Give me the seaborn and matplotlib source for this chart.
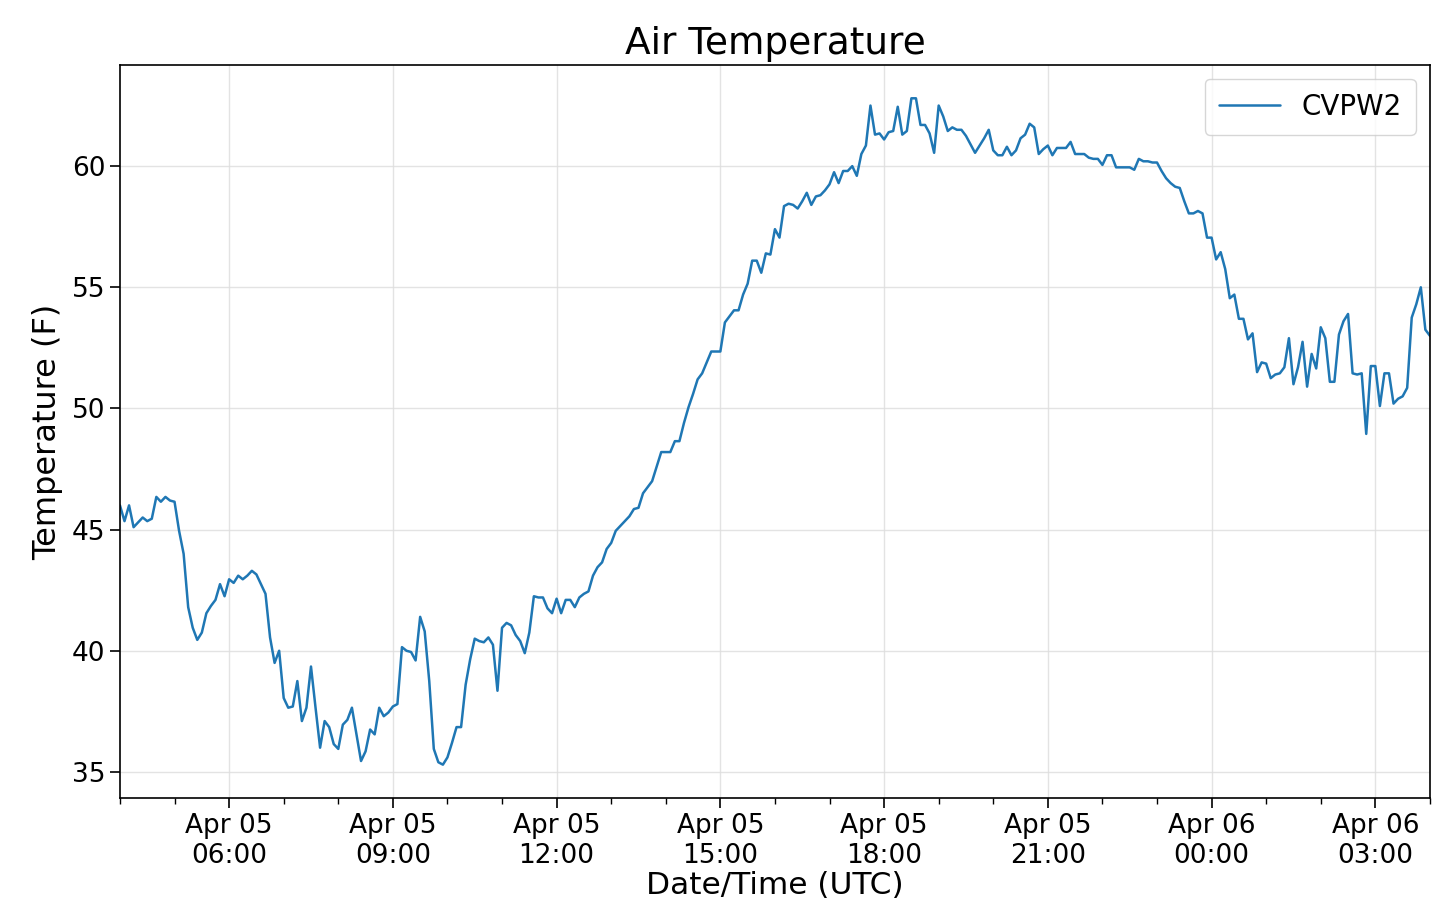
import pandas as pd
import numpy as np
import matplotlib
matplotlib.use('Agg')
import matplotlib.pyplot as plt
import matplotlib.dates as mdates
import seaborn as sns

# station and time axis (5-minute observations)
station = 'CVPW2'
start_time = '2019-04-05 04:00'
step = '5min'

# air temperature (F)
temp_f = [
    46.0, 45.35, 46.0, 45.1, 45.3, 45.5, 45.35, 45.45, 46.35, 46.15,
    46.35, 46.2, 46.15, 44.95, 44.0, 41.8, 40.95, 40.45, 40.75, 41.55,
    41.85, 42.1, 42.75, 42.25, 42.95, 42.8, 43.1, 42.95, 43.1, 43.3,
    43.15, 42.75, 42.35, 40.55, 39.5, 40.0, 38.05, 37.65, 37.7, 38.75,
    37.1, 37.65, 39.35, 37.65, 36.0, 37.1, 36.85, 36.15, 35.95,
    36.95, 37.15, 37.65, 36.55, 35.45, 35.85, 36.75, 36.55, 37.65, 37.3,
    37.45, 37.7, 37.8, 40.15, 40.0, 39.95, 39.6, 41.4, 40.8, 38.75,
    35.95, 35.4, 35.3, 35.6, 36.2, 36.85, 36.85, 38.6, 39.65, 40.5,
    40.4, 40.35, 40.55, 40.25, 38.35, 40.95, 41.15, 41.05, 40.65, 40.4,
    39.9, 40.75, 42.25, 42.2, 42.2, 41.75, 41.55, 42.15, 41.55,
    42.1, 42.1, 41.8, 42.2, 42.35, 42.45, 43.1, 43.45, 43.65, 44.2,
    44.45, 44.95, 45.15, 45.35, 45.55, 45.85, 45.9, 46.5, 46.75, 47.0,
    47.6, 48.2, 48.2, 48.2, 48.65, 48.65, 49.4, 50.05, 50.6, 51.2,
    51.45, 51.9, 52.35, 52.35, 52.35, 53.55, 53.8, 54.05, 54.05, 54.7,
    55.15, 56.1, 56.1, 55.6, 56.4, 56.35,
    57.4, 57.05, 58.35, 58.45, 58.4, 58.25, 58.55, 58.9, 58.4, 58.75,
    58.8, 59.0, 59.25, 59.75, 59.3, 59.8, 59.8, 60.0, 59.6, 60.5,
    60.85, 62.5, 61.3, 61.35, 61.1, 61.4, 61.45, 62.45, 61.3, 61.45,
    62.8, 62.8, 61.7, 61.7, 61.35, 60.55, 62.5, 62.05, 61.45, 61.6,
    61.5, 61.5, 61.25, 60.9, 60.55, 60.85, 61.15, 61.5,
    60.65, 60.45, 60.45, 60.8, 60.45, 60.65, 61.15, 61.3, 61.75, 61.6,
    60.5, 60.7, 60.85, 60.45, 60.75, 60.75, 60.75, 61.0, 60.5, 60.5,
    60.5, 60.35, 60.3, 60.3, 60.05, 60.45, 60.45, 59.95, 59.95, 59.95,
    59.95, 59.85, 60.3, 60.2, 60.2, 60.15, 60.15, 59.8, 59.5, 59.3,
    59.15, 59.1, 58.55, 58.05, 58.05, 58.15, 58.05,
    57.05, 57.05, 56.15, 56.45, 55.75, 54.55, 54.7, 53.7, 53.7, 52.85,
    53.1, 51.5, 51.9, 51.85, 51.25, 51.4, 51.45, 51.7, 52.9, 51.0,
    51.7, 52.75, 50.9, 52.25, 51.65, 53.35, 52.9, 51.1, 51.1, 53.05,
    53.6, 53.9, 51.45, 51.4, 51.45, 48.95, 51.75, 51.75, 50.1, 51.45,
    51.45, 50.2, 50.4, 50.5, 50.85, 53.75, 54.3, 55.0, 53.25, 53.0,
]

df = pd.DataFrame({
    'time': pd.date_range(start_time, periods=len(temp_f), freq=step),
    'temp': temp_f,
})

sns.set_style('ticks')
plt.rcParams['font.family'] = ['DejaVu Sans']
plt.rcParams['text.color'] = 'black'
plt.rcParams['axes.labelcolor'] = 'black'
plt.rcParams['xtick.color'] = 'black'
plt.rcParams['ytick.color'] = 'black'

fig = plt.figure(figsize=(14.4, 9.1), dpi=100)
ax = fig.add_axes([0.0833, 0.1231, 0.9097, 0.8055])

sns.lineplot(data=df, x='time', y='temp', ax=ax, color='#1f77b4',
             linewidth=1.8, label=station)

ax.set_xlim(df['time'].iloc[0], df['time'].iloc[-1])
ax.xaxis.set_major_locator(mdates.HourLocator(byhour=range(0, 24, 3)))
ax.xaxis.set_minor_locator(mdates.HourLocator())
ax.xaxis.set_major_formatter(mdates.DateFormatter('%b %d\n%H:%M'))

ax.grid(True, which='major', color='#dddddd', linewidth=1.0, alpha=0.8)
ax.tick_params(axis='both', which='major', labelsize=19, length=7, width=1.2)
ax.tick_params(axis='x', which='minor', length=4, width=1.0)
for sp in ax.spines.values():
    sp.set_color('black')
    sp.set_linewidth(1.2)

ax.set_title('Air Temperature', fontsize=27, pad=8)
ax.set_xlabel('Date/Time (UTC)', fontsize=22.5, labelpad=2)
ax.set_ylabel('Temperature (F)', fontsize=23, labelpad=6)
ax.legend(loc='upper right', fontsize=20, frameon=True, handlelength=2.2,
          borderpad=0.5)

fig.savefig('out.png', dpi=100)
